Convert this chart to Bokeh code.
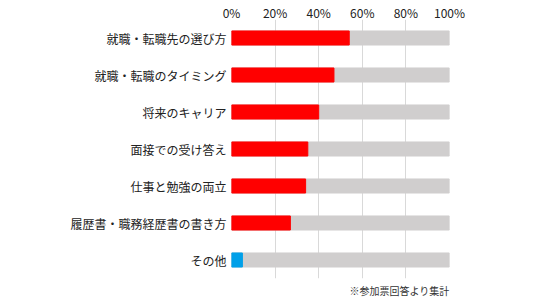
from bokeh.plotting import figure
from bokeh.models import FactorRange, Range1d, FixedTicker, ColumnDataSource, Title
from bokeh.embed import file_html
from bokeh.resources import INLINE

categories = ["就職・転職先の選び方", "就職・転職のタイミング", "将来のキャリア",
              "面接での受け答え", "仕事と勉強の両立", "履歴書・職務経歴書の書き方", "その他"]
values = [54, 47, 40, 35, 34, 27, 5]
bar_colors = ["#ff0000", "#ff0000", "#ff0000", "#ff0000", "#ff0000", "#ff0000", "#00a0e9"]
totals = [100] * len(categories)
tick_values = [0, 20, 40, 60, 80, 100]
tick_labels = ["0%", "20%", "40%", "60%", "80%", "100%"]
note = "※参加票回答より集計"

FONT = "Noto Sans CJK JP"

p = figure(width=536, height=299, output_backend="svg", toolbar_location=None,
           y_range=FactorRange(*reversed(categories)), x_range=Range1d(0, 100),
           x_axis_location="above", min_border_left=231, min_border_right=87,
           min_border_top=0, min_border_bottom=0)
p.outline_line_color = None
p.background_fill_color = "white"
p.border_fill_color = "white"

src = ColumnDataSource(dict(cat=categories, val=values, tot=totals, col=bar_colors))
p.hbar(y="cat", left=0, right="tot", height=0.38, color="#d0cece", source=src)
p.hbar(y="cat", left=0, right="val", height=0.38, color="col", source=src)

for ax in (p.xaxis, p.yaxis):
    ax.axis_line_color = None
    ax.major_tick_line_color = None
    ax.minor_tick_line_color = None
    ax.major_tick_out = 0
    ax.major_tick_in = 0
    ax.minor_tick_out = 0
    ax.minor_tick_in = 0
    ax.major_label_text_font = FONT
    ax.major_label_text_font_size = "12px"
    ax.major_label_text_color = "#222222"

p.xaxis.ticker = FixedTicker(ticks=tick_values)
p.xaxis.major_label_overrides = {v: l for v, l in zip(tick_values, tick_labels)}
p.xaxis.major_label_standoff = -1
p.yaxis.major_label_standoff = 5

p.xgrid.grid_line_color = "#d9d9d9"
p.xgrid.ticker = FixedTicker(ticks=tick_values)
p.ygrid.grid_line_color = None

p.add_layout(Title(text=note, align="right", text_font=FONT, text_font_size="10px",
                   text_font_style="normal", text_color="#333333", standoff=4), "below")

open("out.html", "w").write(file_html(p, INLINE))
